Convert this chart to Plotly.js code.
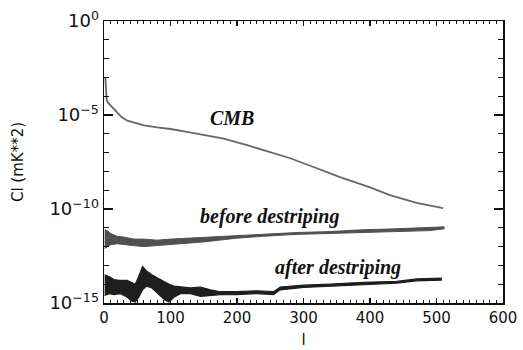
<!DOCTYPE html>
<html>
<head>
<meta charset="utf-8">
<script src="https://cdn.plot.ly/plotly-3.0.1.min.js"></script>
<style>html,body{margin:0;padding:0;background:#fff;}#chart{width:523px;height:350px;}</style>
</head>
<body>
<div id="chart"></div>
<script>
// CMB power spectrum
const cmbL = [2, 3, 4, 6, 10, 14, 20, 26, 35, 44, 60, 80, 100, 125, 150, 180, 215, 250, 280, 310, 355, 400, 430, 470, 510];
const cmbCl = [1.0e-3, 2.5e-4, 6.3e-5, 4.5e-5, 3.2e-5, 2.2e-5, 1.25e-5, 8e-6, 5e-6, 4e-6, 2.8e-6, 2.2e-6, 1.8e-6, 1.25e-6, 9e-7, 5.6e-7, 2.5e-7, 1.1e-7, 5e-8, 2e-8, 5e-9, 1.4e-9, 5.5e-10, 2.1e-10, 1.1e-10];

// before destriping: upper / lower envelope of the noisy curve
const beforeL = [1, 5, 10, 20, 30, 45, 60, 80, 100, 125, 150, 175, 200, 240, 290, 340, 390, 440, 490, 512];
const beforeHi = [7.9e-12, 7.1e-12, 5.0e-12, 3.5e-12, 3.2e-12, 2.5e-12, 2.5e-12, 2.2e-12, 2.5e-12, 2.8e-12, 3.2e-12, 3.5e-12, 4.0e-12, 4.5e-12, 5.6e-12, 6.3e-12, 7.9e-12, 8.9e-12, 1.0e-11, 1.12e-11];
const beforeLo = [7.9e-13, 1.0e-12, 1.26e-12, 1.41e-12, 1.26e-12, 1.12e-12, 1.0e-12, 1.12e-12, 1.26e-12, 1.41e-12, 1.78e-12, 2.24e-12, 2.82e-12, 3.55e-12, 4.47e-12, 5.0e-12, 5.6e-12, 6.3e-12, 7.1e-12, 8.9e-12];

// after destriping: upper / lower envelope
const afterL = [1, 8, 15, 25, 35, 42, 47, 52, 58, 64, 72, 82, 92, 98, 105, 115, 130, 145, 160, 175, 200, 230, 255, 265, 300, 340, 390, 440, 470, 508];
const afterHi = [3.16e-14, 2.51e-14, 1.78e-14, 1.58e-14, 1.58e-14, 1.26e-14, 1.0e-14, 2.51e-14, 8.91e-14, 5.0e-14, 3.16e-14, 2.0e-14, 1.26e-14, 1.0e-14, 7.94e-15, 7.08e-15, 6.31e-15, 7.08e-15, 5.0e-15, 3.98e-15, 3.98e-15, 4.47e-15, 3.98e-15, 7.08e-15, 8.91e-15, 1.0e-14, 1.26e-14, 1.41e-14, 1.91e-14, 2.09e-14];
const afterLo = [2.51e-15, 3.16e-15, 2.82e-15, 3.16e-15, 2.0e-15, 1.26e-15, 1.12e-15, 2.0e-15, 5.0e-15, 7.94e-15, 6.31e-15, 3.16e-15, 1.41e-15, 1.12e-15, 2.0e-15, 3.16e-15, 3.16e-15, 2.24e-15, 2.51e-15, 2.82e-15, 2.82e-15, 3.16e-15, 2.82e-15, 5.0e-15, 6.76e-15, 7.94e-15, 1.0e-14, 1.12e-14, 1.51e-14, 1.66e-14];

const yTickVals = [1e-15, 1e-10, 1e-5, 1];
const yTickText = ['10<sup>−15</sup>', '10<sup>−10</sup>', '10<sup>−5</sup>', '10<sup>0</sup>'];
const yMinorVals = [1e-14, 1e-13, 1e-12, 1e-11, 1e-9, 1e-8, 1e-7, 1e-6, 1e-4, 1e-3, 1e-2, 1e-1];

const cmbColor = '#666666', beforeColor = '#505050', afterColor = '#1e1e1e';

const traces = [
  {x: cmbL, y: cmbCl, mode: 'lines', line: {color: cmbColor, width: 1.8, shape: 'linear'}, showlegend: false, hoverinfo: 'skip'},
  {x: beforeL, y: beforeLo, mode: 'lines', line: {color: beforeColor, width: 1}, showlegend: false, hoverinfo: 'skip'},
  {x: beforeL, y: beforeHi, mode: 'lines', fill: 'tonexty', fillcolor: beforeColor, line: {color: beforeColor, width: 1}, showlegend: false, hoverinfo: 'skip'},
  {x: afterL, y: afterLo, mode: 'lines', line: {color: afterColor, width: 1.2}, showlegend: false, hoverinfo: 'skip'},
  {x: afterL, y: afterHi, mode: 'lines', fill: 'tonexty', fillcolor: afterColor, line: {color: afterColor, width: 1.2}, showlegend: false, hoverinfo: 'skip'}
];

const annFont = {family: 'Liberation Serif', size: 20, color: '#111'};

const layout = {
  width: 523, height: 350,
  margin: {l: 104, r: 20, t: 21, b: 47},
  paper_bgcolor: '#fff', plot_bgcolor: '#fff',
  showlegend: false,
  xaxis: {
    range: [0, 600], dtick: 100, tick0: 0,
    ticks: 'inside', ticklen: 5, tickwidth: 1.3, tickcolor: '#111',
    minor: {dtick: 10, ticks: 'inside', ticklen: 3, tickwidth: 1, tickcolor: '#111'},
    showline: true, linecolor: '#111', linewidth: 1.5, mirror: 'ticks',
    showgrid: false, zeroline: false,
    tickfont: {family: 'DejaVu Sans', size: 15, color: '#111'},
    title: {text: 'l', font: {family: 'DejaVu Sans', size: 15, color: '#111'}, standoff: 9}
  },
  yaxis: {
    type: 'log', range: [-15, 0],
    tickmode: 'array', tickvals: yTickVals, ticktext: yTickText,
    ticks: 'inside', ticklen: 9, tickwidth: 1.3, tickcolor: '#111',
    minor: {tickmode: 'array', tickvals: yMinorVals, ticks: 'inside', ticklen: 5, tickwidth: 1, tickcolor: '#111'},
    showline: true, linecolor: '#111', linewidth: 1.5, mirror: 'ticks',
    showgrid: false, zeroline: false,
    tickfont: {family: 'DejaVu Sans', size: 18, color: '#111'},
    title: {text: 'Cl (mK**2)', font: {family: 'DejaVu Sans', size: 15, color: '#111'}, standoff: 22}
  },
  annotations: [
    {text: '<b><i>CMB</i></b>', xref: 'paper', yref: 'paper', x: 0.321, y: 0.656, xanchor: 'center', yanchor: 'middle', showarrow: false, font: annFont},
    {text: '<b><i>before destriping</i></b>', xref: 'paper', yref: 'paper', x: 0.416, y: 0.305, xanchor: 'center', yanchor: 'middle', showarrow: false, font: annFont},
    {text: '<b><i>after destriping</i></b>', xref: 'paper', yref: 'paper', x: 0.586, y: 0.125, xanchor: 'center', yanchor: 'middle', showarrow: false, font: annFont}
  ]
};

Plotly.newPlot('chart', traces, layout, {staticPlot: true, displayModeBar: false});
</script>
</body>
</html>
